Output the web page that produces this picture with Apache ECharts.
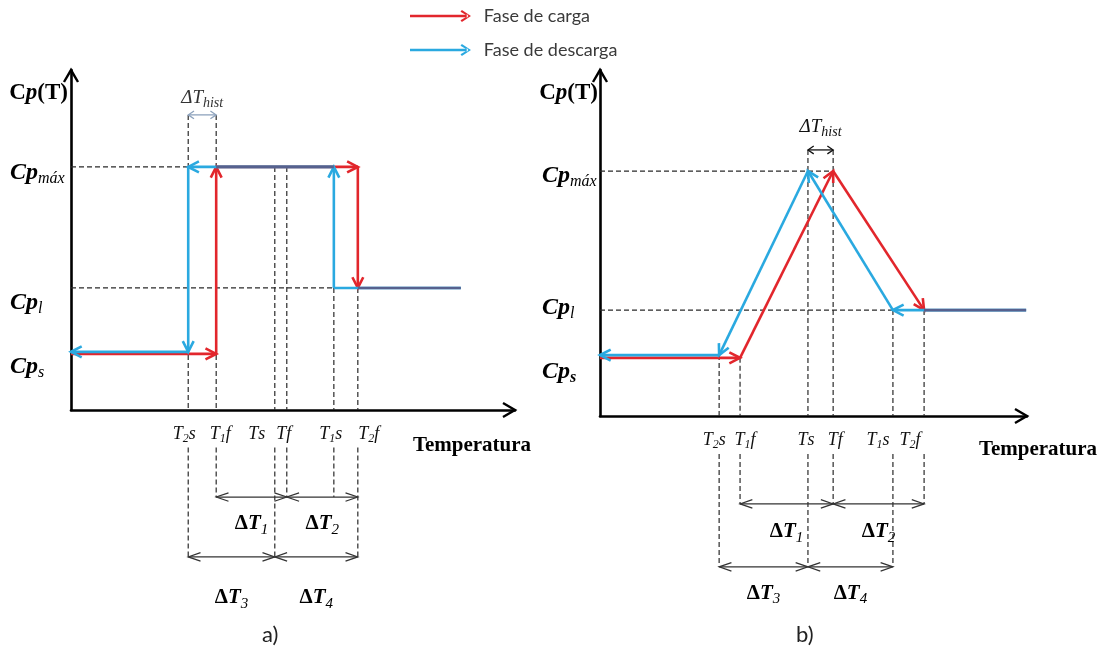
<!DOCTYPE html>
<html>
<head>
<meta charset="utf-8">
<script src="https://cdn.jsdelivr.net/npm/echarts@6/dist/echarts.min.js"></script>
<style>
  html, body { margin: 0; padding: 0; background: #fff; }
  #chart { width: 1108px; height: 652px; }
</style>
</head>
<body>
<div id="chart"></div>
<script>
// ---- data ---------------------------------------------------------------
// Characteristic temperatures, same order as tickNames (axis units 0..100)
const tickNames = ['T2s', 'T1f', 'Ts', 'Tf', 'T1s', 'T2f'];
const tempsA = [26.4, 32.7, 45.9, 48.6, 59.2, 64.6];
const tempsB = [27.9, 32.8, 48.7, 54.6, 68.6, 75.9];
// end of the liquid plateau
const tEndA = 87.8;
const tEndB = 99.8;
// Cp levels: [Cp_max, Cp_l, Cp_s (carga), Cp_s (descarga)]
const cpA = [71.5, 35.9, 16.5, 17.1];
const cpB = [70.8, 30.6, 16.8, 17.6];
const cpSubs = ['máx', 'l', 's'];
// level of the ΔT_hist bracket
const histA = 86.8;
const histB = 76.9;
// ΔT spans: [from tick, to tick, row]
const dimNames = ['1', '2', '3', '4'];
const dimsA = [[1, 3, 0], [3, 5, 0], [0, 2, 1], [2, 5, 1]];
const dimsB = [[1, 3, 0], [3, 5, 0], [0, 2, 1], [2, 4, 1]];
// which dimension row each tick's drop line reaches
const dropRowA = [1, 0, 1, 0, 0, 1];
const dropRowB = [1, 0, 1, 0, 1, 0];
// rows below the temperature axis (axis units)
const dimRowsA = [-25.6, -43.2];
const dimRowsB = [-25.4, -43.6];
const dimLabelRowsA = [-33.5, -55.3];
const dimLabelRowsB = [-33.5, -51.2];
const dropTop = -11;

// ---- layout / style -----------------------------------------------------
const RED = '#e2262c';
const BLUE = '#2aa9e0';
const MIX = '#56618e';
const SERIF = '"Liberation Serif", "Times New Roman", serif';
const SANS = 'Lato, "Open Sans", sans-serif';
// label nudges in pixels (tick labels sideways, Cp labels downward)
const tickNudgeA = [-4, 4, -18, -3, -3, 11];
const tickNudgeB = [-5, 5, -2, 2, -15, -14];
const cpNudgeA = [6, 15, 13];
const cpNudgeB = [5, -2, 14];

// open chevron, tip at the centre of its box so it ends exactly on the axis end
const AXIS_ARROW = 'path://M0,-2.38L8.04,11.4L5.96,12.6L0,2.38L-5.96,12.6L-8.04,11.4ZM0,-12.6L0,-12.6Z';
const LEGEND_ARROW = 'path://M0,4.7L60,4.7L60,7.3L0,7.3ZM63,6L53.6,-0.2L52.2,1.5L59.6,6L52.2,10.5L53.6,12.2ZM70,6L70,6Z';

// ---- geometry built from the data --------------------------------------
function profileA() {
  const [T2s, T1f, , , T1s, T2f] = tempsA;
  const [mx, l, sc, sd] = cpA;
  return {
    carga: [[0, sc, T1f, sc, 1], [T1f, sc, T1f, mx, 1], [T1f, mx, T2f, mx, 1], [T2f, mx, T2f, l, 1]],
    descarga: [[tEndA, l, T1s, l, 0], [T1s, l, T1s, mx, 1], [T1s, mx, T2s, mx, 1], [T2s, mx, T2s, sd, 1], [T2s, sd, 0, sd, 1]],
    both: [[T1f, mx, T1s, mx, 0], [T2f, l, tEndA, l, 0]]
  };
}
function profileB() {
  const [T2s, T1f, Ts, Tf, T1s, T2f] = tempsB;
  const [mx, l, sc, sd] = cpB;
  return {
    carga: [[0, sc, T1f, sc, 1], [T1f, sc, Tf, mx, 1], [Tf, mx, T2f, l, 1]],
    descarga: [[tEndB, l, T1s, l, 1], [T1s, l, Ts, mx, 1], [Ts, mx, T2s, sd, 1], [T2s, sd, 0, sd, 1]],
    both: [[T2f, l, tEndB, l, 0]]
  };
}
function guidesA() {
  const [T2s, T1f, Ts, Tf, T1s, T2f] = tempsA;
  const [mx, l] = cpA;
  const g = [
    [T2s, histA, T2s, 0], [T1f, histA, T1f, 0], [Ts, mx, Ts, 0], [Tf, mx, Tf, 0],
    [T1s, l, T1s, 0], [T2f, l, T2f, 0], [0, mx, T2s, mx], [0, l, T1s, l]
  ];
  tempsA.forEach((t, i) => g.push([t, dropTop, t, dimRowsA[dropRowA[i]]]));
  return g;
}
function guidesB() {
  const [T2s, T1f, Ts, Tf, T1s, T2f] = tempsB;
  const [mx, l, sc, sd] = cpB;
  const g = [
    [T2s, sd, T2s, 0], [T1f, sc, T1f, 0], [Ts, histB, Ts, 0], [Tf, histB, Tf, 0],
    [T1s, l, T1s, 0], [T2f, l, T2f, 0], [0, mx, Tf, mx], [0, l, T1s, l]
  ];
  tempsB.forEach((t, i) => g.push([t, dropTop, t, dimRowsB[dropRowB[i]]]));
  return g;
}
function dimSegs(temps, dims, rows) {
  return dims.map(([a, b, r]) => [temps[a], rows[r], temps[b], rows[r], 2]);
}
function dimLabels(temps, dims, rows) {
  return dims.map(([a, b, r], k) => [(temps[a] + temps[b]) / 2, rows[r], k]);
}

// ---- rendering helpers --------------------------------------------------
function chevron(tip, from, len, spread) {
  const a = Math.atan2(from[1] - tip[1], from[0] - tip[0]);
  return [
    [tip[0] + len * Math.cos(a + spread), tip[1] + len * Math.sin(a + spread)],
    [tip[0], tip[1]],
    [tip[0] + len * Math.cos(a - spread), tip[1] + len * Math.sin(a - spread)]
  ];
}
function arrowRender(opt) {
  return function (params, api) {
    const p1 = api.coord([api.value(0), api.value(1)]);
    const p2 = api.coord([api.value(2), api.value(3)]);
    const head = api.value(4) || 0;
    const color = opt.color;
    const base = { stroke: color, lineWidth: opt.width, fill: null, lineJoin: 'miter' };
    const kids = [{
      type: 'line',
      shape: { x1: p1[0], y1: p1[1], x2: p2[0], y2: p2[1] },
      style: Object.assign({ lineDash: opt.dash || null }, base)
    }];
    if (head >= 1) kids.push({ type: 'polyline', shape: { points: chevron(p2, p1, opt.len, opt.spread) }, style: base });
    if (head >= 2) kids.push({ type: 'polyline', shape: { points: chevron(p1, p2, opt.len, opt.spread) }, style: base });
    return { type: 'group', children: kids };
  };
}
function segSeries(name, idx, data, opt, z) {
  return {
    type: 'custom', name: name, coordinateSystem: 'cartesian2d',
    xAxisIndex: idx, yAxisIndex: idx, data: data,
    dimensions: ['x1', 'y1', 'x2', 'y2', 'h'],
    encode: { x: [0, 2], y: [1, 3] },
    itemStyle: { color: opt.color },
    renderItem: arrowRender(opt), silent: true, clip: false, z: z
  };
}
const DIM_RICH = {
  d: { fontFamily: SERIF, fontSize: 21, fontWeight: 'bold', fill: '#000' },
  t: { fontFamily: SERIF, fontSize: 21, fontWeight: 'bold', fontStyle: 'italic', fill: '#000' },
  n: { fontFamily: SERIF, fontSize: 15, fontStyle: 'italic', fill: '#000', padding: [12, 0, 0, 0] }
};
function dimLabelSeries(idx, data) {
  return {
    type: 'custom', coordinateSystem: 'cartesian2d', xAxisIndex: idx, yAxisIndex: idx,
    data: data, dimensions: ['x', 'y', 'k'], encode: { x: 0, y: 1 }, silent: true, clip: false, z: 6,
    renderItem: function (params, api) {
      const p = api.coord([api.value(0), api.value(1)]);
      return {
        type: 'text', x: p[0], y: p[1],
        style: { text: '{d|Δ}{t|T}{n|' + dimNames[api.value(2)] + '}', align: 'center', verticalAlign: 'middle', rich: DIM_RICH }
      };
    }
  };
}
// temperature tick labels (T2s, T1f, ...) set just under the axis
const TICK_RICH = {
  T: { fontFamily: SERIF, fontSize: 18, fontStyle: 'italic', fill: '#111' },
  n: { fontFamily: SERIF, fontSize: 12, fontStyle: 'italic', fill: '#111', padding: [9, 0, 0, 0] }
};
function tickLabelSeries(idx, temps, nudges, drop) {
  return {
    type: 'custom', coordinateSystem: 'cartesian2d', xAxisIndex: idx, yAxisIndex: idx,
    data: temps.map((t, k) => [t, 0, k]), dimensions: ['x', 'y', 'k'], encode: { x: 0, y: 1 },
    silent: true, clip: false, z: 6,
    renderItem: function (params, api) {
      const k = api.value(2);
      const p = api.coord([api.value(0), api.value(1)]);
      const m = tickNames[k].match(/^T(\d?)(\w)$/);
      const text = '{T|T}' + (m[1] ? '{n|' + m[1] + '}' : '') + '{T|' + m[2] + '}';
      return {
        type: 'text', x: p[0] + nudges[k], y: p[1] + drop,
        style: { text: text, align: 'center', verticalAlign: 'middle', rich: TICK_RICH }
      };
    }
  };
}
function histLabelSeries(idx, x, y, lift, color) {
  const rich = {
    t: { fontFamily: SERIF, fontSize: 19, fontStyle: 'italic', fill: color },
    h: { fontFamily: SERIF, fontSize: 14, fontStyle: 'italic', fill: color, padding: [10, 0, 0, 0] }
  };
  return {
    type: 'custom', coordinateSystem: 'cartesian2d', xAxisIndex: idx, yAxisIndex: idx,
    data: [[x, y]], dimensions: ['x', 'y'], encode: { x: 0, y: 1 }, silent: true, clip: false, z: 6,
    renderItem: function (params, api) {
      const p = api.coord([api.value(0), api.value(1)]);
      return {
        type: 'text', x: p[0], y: p[1] - lift,
        style: { text: '{t|ΔT}{h|hist}', align: 'center', verticalAlign: 'middle', rich: rich }
      };
    }
  };
}
function padV(d) { return d >= 0 ? [2 * d, 0, 0, 0] : [0, 0, -2 * d, 0]; }

function axisX(idx, nameGap, namePad) {
  return {
    type: 'value', gridIndex: idx, min: 0, max: 100,
    name: 'Temperatura', nameLocation: 'end', nameGap: nameGap,
    nameTextStyle: { fontFamily: SERIF, fontSize: 21, fontWeight: 'bold', color: '#000', align: 'center', verticalAlign: 'top', padding: [namePad, 0, 0, 0] },
    axisLine: { show: true, onZero: true, symbol: ['none', AXIS_ARROW], symbolSize: [16.08, 25.2], lineStyle: { color: '#000', width: 2.6 } },
    axisTick: { show: false }, splitLine: { show: false }, axisLabel: { show: false }
  };
}
function axisY(idx, cps, nudges, margin, boldS, namePad) {
  const levels = cps.slice(0, 3);
  const rich = {};
  nudges.forEach((d, i) => {
    rich['c' + i] = { fontFamily: SERIF, fontSize: 24, fontWeight: 'bold', fontStyle: 'italic', color: '#000', padding: padV(d) };
    rich['s' + i] = { fontFamily: SERIF, fontSize: 16, fontStyle: 'italic', fontWeight: (boldS && i === 2) ? 'bold' : 'normal', color: '#000', padding: padV(d + 6) };
  });
  return {
    type: 'value', gridIndex: idx, min: 0, max: 100,
    name: '{c|C}{p|p}{c|(T)}', nameLocation: 'end', nameGap: -23,
    nameTextStyle: {
      align: 'right', verticalAlign: 'middle', padding: [0, namePad, 0, 0],
      rich: {
        c: { fontFamily: SERIF, fontSize: 23, fontWeight: 'bold', color: '#000' },
        p: { fontFamily: SERIF, fontSize: 23, fontWeight: 'bold', fontStyle: 'italic', color: '#000' }
      }
    },
    axisLine: { show: true, onZero: true, symbol: ['none', AXIS_ARROW], symbolSize: [16.08, 25.2], lineStyle: { color: '#000', width: 2.6 } },
    axisTick: { show: false }, splitLine: { show: false },
    axisLabel: {
      customValues: levels, align: 'left', margin: margin, rich: rich, hideOverlap: false,
      formatter: function (v) {
        const i = levels.indexOf(v);
        return '{c' + i + '|Cp}{s' + i + '|' + cpSubs[i] + '}';
      }
    }
  };
}

// ---- series -------------------------------------------------------------
const CURVE = { width: 2.6, len: 12, spread: 0.47 };
const GUIDE = { color: '#2a2a2a', width: 1.2, dash: [5, 3] };
const DIM = { color: '#333', width: 1.2, len: 13, spread: 0.33 };

const pa = profileA();
const pb = profileB();
const series = [];
[[0, pa, guidesA(), tempsA, dimsA, dimRowsA, dimLabelRowsA, tickNudgeA], [1, pb, guidesB(), tempsB, dimsB, dimRowsB, dimLabelRowsB, tickNudgeB]]
  .forEach(([idx, prof, guides, temps, dims, rows, labelRows, nudges]) => {
    series.push(segSeries('guias', idx, guides, GUIDE, 1));
    series.push(segSeries('cotas', idx, dimSegs(temps, dims, rows), DIM, 2));
    series.push(segSeries('Fase de carga', idx, prof.carga, Object.assign({ color: RED }, CURVE), 3));
    series.push(segSeries('Fase de descarga', idx, prof.descarga, Object.assign({ color: BLUE }, CURVE), 4));
    series.push(segSeries('solape', idx, prof.both, Object.assign({ color: MIX }, CURVE), 5));
    series.push(dimLabelSeries(idx, dimLabels(temps, dims, labelRows)));
    series.push(tickLabelSeries(idx, temps, nudges, 24));
  });
// ΔT_hist brackets and their labels
series.push(segSeries('hist', 0, [[tempsA[0], histA, tempsA[1], histA, 2]], { color: '#8ea3bd', width: 1.3, len: 7, spread: 0.6 }, 2));
series.push(segSeries('hist', 1, [[tempsB[2], histB, tempsB[3], histB, 2]], { color: '#111', width: 1.3, len: 7, spread: 0.6 }, 2));
series.push(histLabelSeries(0, (tempsA[0] + tempsA[1]) / 2, histA, 17, '#333'));
series.push(histLabelSeries(1, (tempsB[2] + tempsB[3]) / 2, histB, 23, '#111'));

const chart = echarts.init(document.getElementById('chart'), null, { renderer: 'canvas' });
chart.setOption({
  animation: false,
  backgroundColor: '#fff',
  title: [
    { text: 'a)', left: 262, top: 624, padding: 0, textStyle: { fontFamily: SANS, fontSize: 22, fontWeight: 'normal', color: '#222' } },
    { text: 'b)', left: 796, top: 624, padding: 0, textStyle: { fontFamily: SANS, fontSize: 22, fontWeight: 'normal', color: '#222' } }
  ],
  legend: {
    data: ['Fase de carga', 'Fase de descarga'],
    orient: 'vertical', left: 410, top: 7, padding: 0,
    itemWidth: 70, itemHeight: 12, itemGap: 16,
    icon: LEGEND_ARROW, selectedMode: false,
    textStyle: { fontFamily: SANS, fontSize: 18, color: '#3a3a3a' }
  },
  grid: [
    { left: 71, top: 70, width: 444, height: 340, outerBoundsMode: 'none' },
    { left: 600, top: 70, width: 427, height: 346, outerBoundsMode: 'none' }
  ],
  xAxis: [axisX(0, -43, 25), axisX(1, 11, 23)],
  yAxis: [axisY(0, cpA, cpNudgeA, 61, false, 3), axisY(1, cpB, cpNudgeB, 58, true, 2)],
  series: series
});
</script>
</body>
</html>
